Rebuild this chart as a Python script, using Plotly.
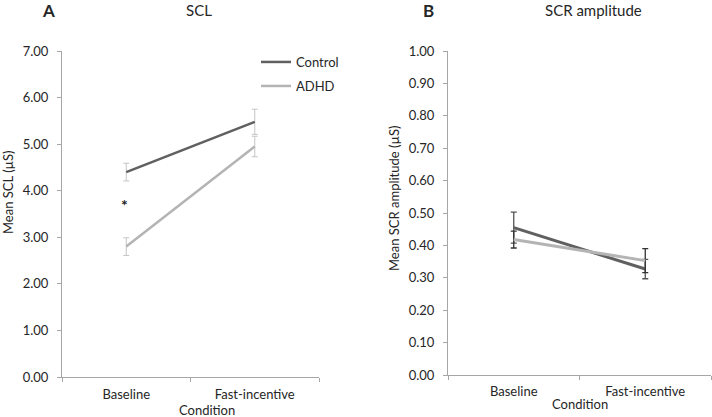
import plotly.graph_objects as go

# ---- data ----
conditions = ["Baseline", "Fast-incentive"]

scl_control = [4.40, 5.48]
scl_control_err = [0.19, 0.27]
scl_adhd = [2.80, 4.95]
scl_adhd_err = [0.19, 0.22]

scr_control = [0.455, 0.327]
scr_control_err = [0.048, 0.030]
scr_adhd = [0.418, 0.353]
scr_adhd_err = [0.026, 0.037]

scl_ticks = [0, 1, 2, 3, 4, 5, 6, 7]
scr_ticks = [round(i * 0.1, 1) for i in range(11)]

sig_marker_value = 3.75

# ---- style ----
FONT = "Lato"
C_CTRL = "#606060"
C_ADHD = "#b4b4b4"
AXIS = "#a6a6a6"
TXT = "#262626"

W, H = 712, 417

def px(x):
    return x / W

def py(y):
    return 1 - y / H

fig = go.Figure()

# Left panel (SCL)
fig.add_trace(go.Scatter(
    x=conditions, y=scl_control, mode="lines", name="Control",
    line=dict(color=C_CTRL, width=2.5),
    error_y=dict(type="data", array=scl_control_err, color="#c4c4c4", thickness=1, width=3),
    xaxis="x", yaxis="y", legend="legend"))
fig.add_trace(go.Scatter(
    x=conditions, y=scl_adhd, mode="lines", name="ADHD",
    line=dict(color=C_ADHD, width=2.5),
    error_y=dict(type="data", array=scl_adhd_err, color="#c4c4c4", thickness=1, width=3),
    xaxis="x", yaxis="y", legend="legend2"))

# Right panel (SCR amplitude)
fig.add_trace(go.Scatter(
    x=conditions, y=scr_control, mode="lines", name="Control", showlegend=False,
    line=dict(color=C_CTRL, width=3),
    error_y=dict(type="data", array=scr_control_err, color="#555555", thickness=1.3, width=3),
    xaxis="x2", yaxis="y2"))
fig.add_trace(go.Scatter(
    x=conditions, y=scr_adhd, mode="lines", name="ADHD", showlegend=False,
    line=dict(color=C_ADHD, width=3),
    error_y=dict(type="data", array=scr_adhd_err, color="#333333", thickness=1.3, width=3),
    xaxis="x2", yaxis="y2"))

axis_common = dict(showline=True, linecolor=AXIS, linewidth=1, showgrid=False, zeroline=False,
                   ticks="outside", tickcolor=AXIS, ticklen=4,
                   tickfont=dict(family=FONT, size=13, color=TXT))

fig.update_layout(
    width=W, height=H,
    margin=dict(l=0, r=0, t=0, b=0, autoexpand=False),
    paper_bgcolor="white", plot_bgcolor="white",
    font=dict(family=FONT, size=13, color=TXT),
    xaxis=dict(domain=[px(62), px(319)], anchor="y", type="category", automargin=False,
               range=[-0.5, 1.5], tickson="boundaries", ticklabelstandoff=5, **axis_common),
    yaxis=dict(domain=[py(377), py(51)], anchor="x", range=[0, 7], automargin=False,
               tickvals=scl_ticks, tickformat=".2f", ticklabelstandoff=6, **axis_common),
    xaxis2=dict(domain=[px(448), px(711)], anchor="y2", type="category", automargin=False,
                range=[-0.5, 1.5], tickson="boundaries", ticklabelstandoff=4, **axis_common),
    yaxis2=dict(domain=[py(375), py(51)], anchor="x2", range=[0, 1.0], automargin=False,
                tickvals=scr_ticks, tickformat=".2f", ticklabelstandoff=6, **axis_common),
    legend=dict(x=px(256), y=py(62), xanchor="left", yanchor="middle",
                bgcolor="rgba(0,0,0,0)", font=dict(family=FONT, size=13, color=TXT)),
    legend2=dict(x=px(256), y=py(86), xanchor="left", yanchor="middle",
                 bgcolor="rgba(0,0,0,0)", font=dict(family=FONT, size=13, color=TXT)),
    showlegend=True,
)

annots = [
    dict(text="<b>A</b>", x=px(48), y=py(11), font=dict(size=17)),
    dict(text="SCL", x=px(199), y=py(10), font=dict(size=15)),
    dict(text="<b>B</b>", x=px(428), y=py(11), font=dict(size=17)),
    dict(text="SCR amplitude", x=px(593), y=py(10), font=dict(size=15)),
    dict(text="Mean SCL (µS)", x=px(8), y=py(192), textangle=-90, font=dict(size=13)),
    dict(text="Mean SCR amplitude (µS)", x=px(394), y=py(199), textangle=-90, font=dict(size=13)),
    dict(text="Condition", x=px(207), y=py(410), font=dict(size=13)),
    dict(text="Condition", x=px(580), y=py(404), font=dict(size=13)),
]
for a in annots:
    fig.add_annotation(xref="paper", yref="paper", showarrow=False,
                       xanchor="center", yanchor="middle", **a)

fig.add_annotation(x=conditions[0], y=sig_marker_value, xref="x", yref="y", text="<b>*</b>",
                   showarrow=False, xshift=-2, yshift=-2, font=dict(size=16, color="#222222"))

fig.write_html("out.html", config={"displayModeBar": False},
               post_script="document.body.style.margin='0';document.body.style.overflow='hidden';")
